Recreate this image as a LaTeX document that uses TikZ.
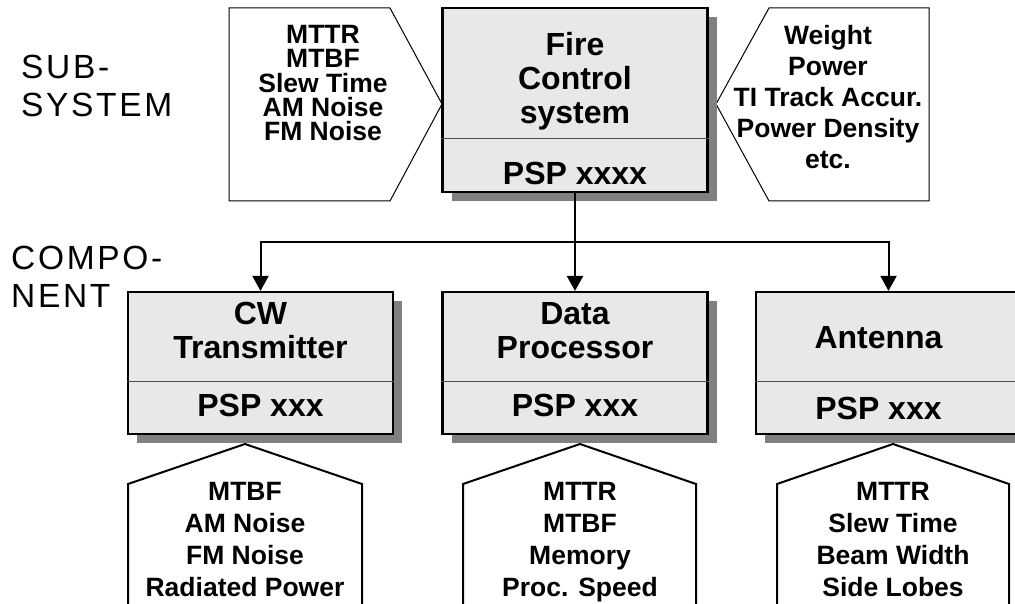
\documentclass[tikz,border=0pt]{standalone}
\usepackage{fontspec}
\setmainfont{Liberation Sans}
\newfontfamily\levelfont[LetterSpace=8]{Liberation Sans}
\usetikzlibrary{positioning,shadows,arrows.meta}
\definecolor{boxgray}{RGB}{232,232,232}
\definecolor{shadowgray}{RGB}{128,128,128}
\begin{document}
\begin{tikzpicture}[x=1pt,y=-1pt,Sys/.style={rectangle, draw=black, fill=boxgray, line width=2.2pt, minimum width=265pt, minimum height=184pt, inner sep=0pt, drop shadow={shadow xshift=9pt, shadow yshift=-9pt, fill=shadowgray, opacity=1}},Comp/.style={Sys, minimum height=142pt},title/.style={font=\bfseries\fontsize{32}{34}\selectfont, align=center, inner sep=0pt},psp/.style={font=\bfseries\fontsize{32}{34}\selectfont, inner sep=0pt},attrs/.style={font=\bfseries\fontsize{26.5}{#1}\selectfont, align=center, inner sep=0pt, anchor=north},level/.style={font=\levelfont\fontsize{33.5}{38}\selectfont, align=left, inner sep=0pt, anchor=north west},divider/.style={line width=1pt, draw=black!70},tag_in/.style={draw, line width=1pt, fill=white, line join=miter},tag_req/.style={draw, line width=2pt, fill=white, line join=miter},link/.style={line width=2pt, -{Triangle[length=15pt,width=16pt]}}]
            \clip (0,0) rectangle (1015,604);
            % level labels
            \node[level] (sub) at (21,55) {SUB-\\SYSTEM};
            \node[level] (comp) at (11,246) {COMPO-\\NENT};
            % subsystem inputs and outputs
            \draw[tag_in] (229,8) -- (390,8) -- (442,104) -- (390,201) -- (229,201) -- cycle;
            \draw[tag_in] (929,8) -- (769,8) -- (716,104) -- (769,201) -- (929,201) -- cycle;
            \node[attrs=24.3] (fcs_in) at (323,25) {MTTR\\MTBF\\Slew Time\\AM Noise\\FM Noise};
            \node[attrs=31] (fcs_out) at (828,25) {Weight\\Power\\TI Track Accur.\\Power Density\\etc.};
            % subsystem
            \node[Sys] (fcs) at (575,100) {};
            \draw[divider] ([yshift=-132pt]fcs.north west) -- ([yshift=-132pt]fcs.north east);
            \node[title, below=25pt of fcs.north] (fcs_name) {Fire\\Control\\system};
            \node[psp, below=155pt of fcs.north] (fcs_psp) {PSP xxxx};
            % components
            \node[Comp] (cw) at (260.5,363) {};
            \node[Comp] (dp) at (575,363) {};
            \node[Comp] (ant) at (888.5,363) {};
            \draw[divider] ([yshift=-91pt]cw.north west) -- ([yshift=-91pt]cw.north east);
            \draw[divider] ([yshift=-91pt]dp.north west) -- ([yshift=-91pt]dp.north east);
            \draw[divider] ([yshift=-91pt]ant.north west) -- ([yshift=-91pt]ant.north east);
            \node[title, below=11pt of cw.north] (cw_name) {CW\\Transmitter};
            \node[psp, below=103pt of cw.north] (cw_psp) {PSP xxx};
            \node[title, below=11pt of dp.north] (dp_name) {Data\\Processor};
            \node[psp, below=103pt of dp.north] (dp_psp) {PSP xxx};
            \node[title, below=35pt of ant.north, xshift=-10pt] (ant_name) {Antenna};
            \node[psp, below=106pt of ant.north, xshift=-10pt] (ant_psp) {PSP xxx};
            % component requirements
            \draw[tag_req] (128,620) -- (128,484) -- (245,444) -- (362,484) -- (362,620);
            \draw[tag_req] (463,620) -- (463,484) -- (580,444) -- (696,484) -- (696,620);
            \draw[tag_req] (777,620) -- (777,484) -- (893,444) -- (1009,484) -- (1009,620);
            \node[attrs=32] (cw_req) at (245,482) {MTBF\\AM Noise\\FM Noise\\Radiated Power};
            \node[attrs=32] (dp_req) at (580,482) {MTTR\\MTBF\\Memory\\Proc. Speed};
            \node[attrs=32] (ant_req) at (893,482) {MTTR\\Slew Time\\Beam Width\\Side Lobes};
            % connectors
            \coordinate (bus) at (575,242);
            \draw[link, line width=2.6pt] (fcs.south) -- (dp.north);
            \draw[link] (bus) -| (cw.north);
            \draw[link] (bus) -| (ant.north);
        \end{tikzpicture}
\end{document}
